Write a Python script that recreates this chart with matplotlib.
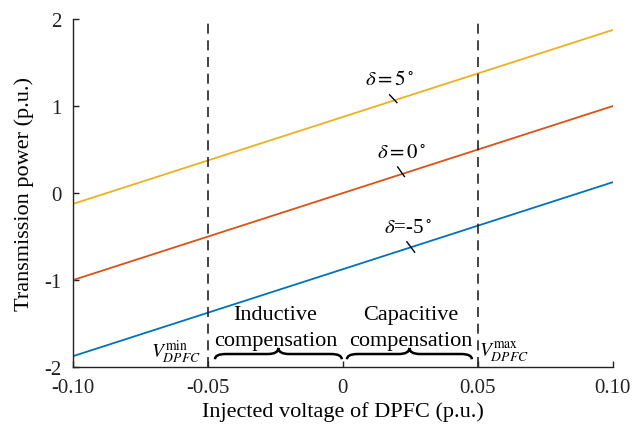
import matplotlib
matplotlib.use("Agg")
import matplotlib.pyplot as plt
from matplotlib.path import Path
from matplotlib.patches import PathPatch

plt.rcParams['font.family'] = ['Liberation Serif', 'DejaVu Serif']
plt.rcParams['mathtext.fontset'] = 'stix'
plt.rcParams['axes.unicode_minus'] = False

# Data
x_ends = [-0.10, 0.10]
p_delta_pos5 = [-0.125, 1.875]
p_delta_0 = [-1.0, 1.0]
p_delta_neg5 = [-1.875, 0.125]
x_ticks = [-0.10, -0.05, 0, 0.05, 0.10]
x_ticklabels = ["-0.10", "-0.05", "0", "0.05", "0.10"]
y_ticks = [-2, -1, 0, 1, 2]
v_limits = [-0.05, 0.05]

c_blue = '#0072BD'
c_orange = '#D95319'
c_yellow = '#EDB120'

fig = plt.figure(figsize=(6.43, 4.27), dpi=100)
ax = fig.add_axes([0.1135, 0.138, 0.8395, 0.815])

ax.plot(x_ends, p_delta_pos5, color=c_yellow, lw=1.3)
ax.plot(x_ends, p_delta_0, color=c_orange, lw=1.3)
ax.plot(x_ends, p_delta_neg5, color=c_blue, lw=1.3)

for v in v_limits:
    ax.axvline(v, color='#222222', lw=1.2, ls=(0, (6, 4)))

ax.set_xlim(-0.10, 0.10)
ax.set_ylim(-2, 2)
ax.set_xticks(x_ticks)
ax.set_xticklabels(x_ticklabels)
ax.set_yticks(y_ticks)
ax.tick_params(direction='in', length=4, labelsize=15, width=1, colors='#222222')
ax.tick_params(axis='y', pad=8)
ax.tick_params(axis='x', pad=8)
for s in ['top', 'right']:
    ax.spines[s].set_visible(False)
for s in ['left', 'bottom']:
    ax.spines[s].set_color('#222222')
    ax.spines[s].set_linewidth(1)
ax.set_xlabel('Injected voltage of DPFC (p.u.)', fontsize=16, labelpad=3)
ax.set_ylabel('Transmission power (p.u.)', fontsize=16, labelpad=8)

# delta labels with leader lines
labels = [(r'$\delta=5^\circ$', 0.0175, 1.31, (0.0173, 1.13), (0.0200, 1.04)),
          (r'$\delta=0^\circ$', 0.0218, 0.47, (0.0203, 0.30), (0.0228, 0.19)),
          (r'$\delta$=-5$^\circ$', 0.0240, -0.39, (0.0237, -0.56), (0.0266, -0.68))]
for txt, tx, ty, p0, p1 in labels:
    ax.text(tx, ty, txt, fontsize=15, ha='center', va='center')
    ax.plot([p0[0], p1[0]], [p0[1], p1[1]], color='k', lw=1)

# compensation texts
ax.text(-0.025, -1.40, 'Inductive', fontsize=16, ha='center', va='center')
ax.text(-0.025, -1.70, 'compensation', fontsize=16, ha='center', va='center')
ax.text(0.025, -1.40, 'Capacitive', fontsize=16, ha='center', va='center')
ax.text(0.025, -1.70, 'compensation', fontsize=16, ha='center', va='center')

ax.text(-0.0525, -1.82, r'$V_{DPFC}^{\rm min}$', fontsize=14, ha='right', va='center')
ax.text(0.0505, -1.82, r'$V_{DPFC}^{\rm max}$', fontsize=14, ha='left', va='center')


def brace(x0, x1, y0, y1, y2, d=0.004):
    xm = (x0 + x1) / 2
    verts = [(x0, y0), (x0, y1), (x0 + d, y1),
             (xm - d, y1),
             (xm, y1), (xm, y2),
             (xm, y1), (xm + d, y1),
             (x1 - d, y1),
             (x1, y1), (x1, y0)]
    codes = [Path.MOVETO, Path.CURVE3, Path.CURVE3,
             Path.LINETO,
             Path.CURVE3, Path.CURVE3,
             Path.CURVE3, Path.CURVE3,
             Path.LINETO,
             Path.CURVE3, Path.CURVE3]
    ax.add_patch(PathPatch(Path(verts, codes), fill=False, lw=1.8, color='k'))


brace(-0.0474, -0.0004, -1.91, -1.85, -1.78)
brace(0.0015, 0.0478, -1.91, -1.85, -1.78)

fig.savefig('out.png', dpi=100)
